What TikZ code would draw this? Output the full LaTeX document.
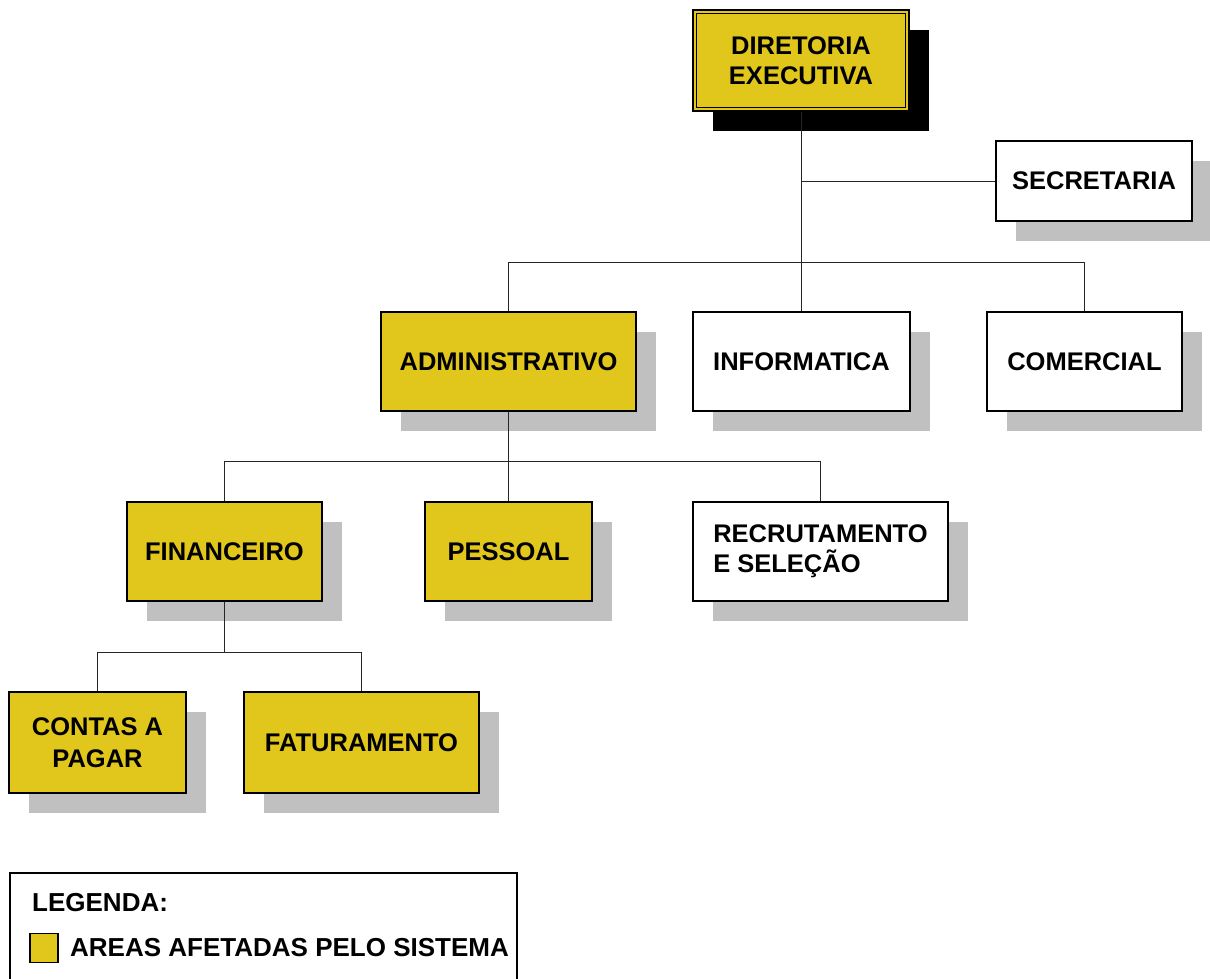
\documentclass[tikz,border=0pt]{standalone}
\usepackage{fontspec}
\setmainfont{Liberation Sans}
\usetikzlibrary{shadows}
\definecolor{boxyellow}{RGB}{225,198,28}
\definecolor{shadowgray}{RGB}{192,192,192}
\begin{document}
\begin{tikzpicture}[x=1pt,y=-1pt,
  every node/.style={font=\bfseries\fontsize{25.5}{30}\selectfont, inner sep=0pt, align=center},
  orgbox/.style={draw=black, line width=1.6pt, rectangle, minimum height=99pt,
     drop shadow={shadow xshift=20pt, shadow yshift=-20pt, fill=shadowgray, opacity=1}},
  ybox/.style={orgbox, fill=boxyellow},
  wbox/.style={orgbox, fill=white},
  conn/.style={draw=black!85, line width=1pt}
]
\useasboundingbox (0,0) rectangle (1210,979);

% top node
\node[draw=black, line width=1.6pt, fill=boxyellow, minimum width=216pt, minimum height=101pt,
  drop shadow={shadow xshift=20pt, shadow yshift=-20pt, fill=black, opacity=1}]
  (dir) at (801,60.5) {DIRETORIA\\EXECUTIVA};
\draw[line width=1.2pt] ([shift={(4,4)}]dir.north west) rectangle ([shift={(-4,-4)}]dir.south east);

\node[wbox, minimum width=196pt, minimum height=80pt] (sec) at (1094,181) {SECRETARIA};

\node[ybox, minimum width=255pt] (adm) at (508.5,361.5) {ADMINISTRATIVO};
\node[wbox, minimum width=217pt] (inf) at (801.5,361.5) {INFORMATICA};
\node[wbox, minimum width=195pt] (com) at (1084.5,361.5) {COMERCIAL};

\node[ybox, minimum width=195pt] (fin) at (224.5,551.5) {FINANCEIRO};
\node[ybox, minimum width=167pt] (pes) at (508.5,551.5) {PESSOAL};
\node[wbox, minimum width=255pt, align=left] (rec) at (820.5,551.5) {RECRUTAMENTO\\E SELEÇÃO};

\node[ybox, minimum width=177pt, minimum height=101pt, font=\bfseries\fontsize{25.5}{32}\selectfont] (cap) at (97.5,742.5) {CONTAS A\\PAGAR};
\node[ybox, minimum width=235pt, minimum height=101pt] (fat) at (361.5,742.5) {FATURAMENTO};

% connectors
\coordinate (b1) at (0,262);
\coordinate (b2) at (0,461);
\coordinate (b3) at (0,652);
\draw[conn] (dir.south) -- (dir.south |- b1);
\draw[conn] (sec.west) -- (sec.west -| dir.south);
\draw[conn] (adm.north) |- (com.north |- b1) -- (com.north);
\draw[conn] (inf.north) -- (inf.north |- b1);

\draw[conn] (adm.south) -- (adm.south |- b2);
\draw[conn] (fin.north) |- (rec.north |- b2) -- (rec.north);
\draw[conn] (pes.north) -- (pes.north |- b2);

\draw[conn] (fin.south) -- (fin.south |- b3);
\draw[conn] (cap.north) |- (fat.north |- b3) -- (fat.north);

% legend
\coordinate (lgA) at (10,979);
\coordinate (lgB) at (10,873);
\coordinate (lgC) at (517,873);
\coordinate (lgD) at (517,979);
\draw[line width=1.2pt] (lgA) -- (lgB) -- (lgC) -- (lgD);
\node[anchor=west, font=\bfseries\fontsize{26}{30}\selectfont] (legt) at (32,903) {LEGENDA:};
\node[draw=black, line width=1.2pt, fill=boxyellow, minimum width=28pt, minimum height=29pt] (legsq) at (44,948) {};
\node[anchor=west, font=\bfseries\fontsize{26}{30}\selectfont] (legx) at (70,948) {AREAS AFETADAS PELO SISTEMA};
\end{tikzpicture}
\end{document}
